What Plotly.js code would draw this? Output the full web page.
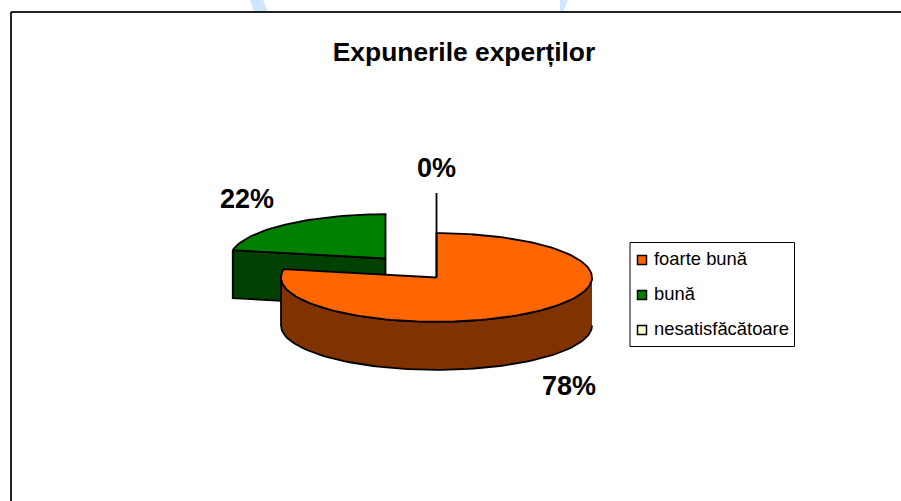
<!DOCTYPE html>
<html>
<head>
<meta charset="utf-8">
<script src="https://cdn.plot.ly/plotly-3.0.1.min.js"></script>
<style>html,body{margin:0;padding:0;background:#fff;overflow:hidden}#chart{width:901px;height:501px}</style>
</head>
<body>
<div id="chart"></div>
<script>
const chartTitle = "Expunerile experților";
const categories = ["foarte bună", "bună", "nesatisfăcătoare"];
const values = [78, 22, 0];
const sliceColors = ["#ff6600", "#008000", "#ffffcc"];
const wallColors = ["#803300", "#004000", "#808066"];

const W = 901, H = 501, CX = 436.5, CY = 277.5, R = 155.5, TILT = 0.285, DEPTH = 48 / R;
const X = px => (px - CX) / R;
const Y = py => (CY - py) / R;
const total = values.reduce((a, b) => a + b, 0);
const offsets = [[0, 0], [-51 / R, 19 / R], [0, 40 / R]];
const rim = (deg, o, drop) => {
  const t = deg * Math.PI / 180;
  return [o[0] + Math.sin(t), o[1] + TILT * Math.cos(t) - (drop || 0)];
};
const arc = (a, b, o, drop) => {
  const n = Math.max(2, Math.ceil(Math.abs(b - a) / 2)), pts = [];
  for (let i = 0; i <= n; i++) pts.push(rim(a + (b - a) * i / n, o, drop));
  return pts;
};
const poly = (pts, color, width) => ({
  type: "scatter", mode: "lines", fill: "toself", fillcolor: color,
  x: pts.map(p => p[0]), y: pts.map(p => p[1]),
  line: {color: "#000", width: width === undefined ? 1.8 : width},
  hoverinfo: "skip", showlegend: false
});

const traces = [];
let start = 0;
const spans = values.map(v => { const s = [start, start + v / total * 360]; start = s[1]; return s; });

// back to front: bună, then foarte bună, then the empty slice
[1, 0].forEach(i => {
  const [a, b] = spans[i], o = offsets[i];
  const wa = Math.max(a, 90), wb = Math.min(b, 270);
  if (wb > wa) {
    traces.push(poly([...arc(wa, wb, o), ...arc(wb, wa, o, DEPTH)], wallColors[i]));
  }
  if (b > 270 && a > 180) {
    // cut face turned towards the viewer
    const p = rim(a, o), c = [o[0], o[1]];
    traces.push(poly([p, c, [c[0], c[1] - DEPTH], [p[0], p[1] - DEPTH], p], wallColors[i]));
  }
  traces.push(poly([[o[0], o[1]], ...arc(a, b, o), [o[0], o[1]]], sliceColors[i]));
});
// zero-value slice collapses to a single line
const z = spans[2], zo = offsets[2];
const zp = rim(z[0], zo);
traces.push({type: "scatter", mode: "lines", x: [0, zp[0]], y: [0, Y(193)],
  line: {color: "#000", width: 1.8}, hoverinfo: "skip", showlegend: false});

// legend swatches and labels
const legendY = [260, 295, 330];
traces.push({type: "scatter", mode: "markers",
  x: categories.map(() => X(642)), y: legendY.map(Y),
  marker: {symbol: "square", size: 9, color: sliceColors, line: {color: "#000", width: 1.5}},
  hoverinfo: "skip", showlegend: false});

const labelPos = [[569, 386], [247, 199], [436, 168]];
const annotations = values.map((v, i) => ({
  xref: "paper", yref: "paper", x: labelPos[i][0] / W, y: 1 - labelPos[i][1] / H,
  xanchor: "center", yanchor: "middle", showarrow: false,
  text: "<b>" + v + "%</b>", font: {family: "Liberation Sans, Arial, sans-serif", size: 27, color: "#000"}
}));
categories.forEach((c, i) => annotations.push({
  xref: "paper", yref: "paper", x: 651.5 / W, y: 1 - (legendY[i] - 1.5) / H,
  xanchor: "left", yanchor: "middle", showarrow: false,
  text: c, font: {family: "Liberation Sans, Arial, sans-serif", size: 18.4, color: "#000"}
}));

const pxRect = (x0, y0, x1, y1, extra) => Object.assign({
  type: "rect", xref: "paper", yref: "paper",
  x0: x0 / W, x1: x1 / W, y0: 1 - y0 / H, y1: 1 - y1 / H
}, extra);
const pxLine = (x0, y0, x1, y1) => ({
  type: "line", xref: "paper", yref: "paper",
  x0: x0 / W, x1: x1 / W, y0: 1 - y0 / H, y1: 1 - y1 / H,
  line: {color: "#222", width: 2}
});
const pxPath = (pts, color) => ({
  type: "path", xref: "paper", yref: "paper", layer: "below",
  path: pts.map((p, i) => (i ? "L" : "M") + (p[0] / W) + "," + (1 - p[1] / H)).join(" ") + " Z",
  fillcolor: color, line: {width: 0}
});

const shapes = [
  pxPath([[250, 0], [263, 0], [268, 12], [254, 12]], "#cfe6ff"),
  pxPath([[560, 0], [568, 0], [563, 12], [560, 12]], "#cfe6ff"),
  pxLine(11, 12, 901, 12),
  pxLine(11, 12, 11, 501),
  pxRect(630, 242.5, 794.5, 346.5, {line: {color: "#000", width: 1}, fillcolor: "#fff", layer: "below"})
];

Plotly.newPlot("chart", traces, {
  width: W, height: H,
  margin: {l: 0, r: 0, t: 0, b: 0},
  paper_bgcolor: "#fff", plot_bgcolor: "rgba(0,0,0,0)",
  showlegend: false,
  title: {
    text: "<b>" + chartTitle + "</b>", x: 464 / W, y: 1 - 52 / H,
    xanchor: "center", yanchor: "middle",
    font: {family: "Liberation Sans, Arial, sans-serif", size: 26.4, color: "#000"}
  },
  xaxis: {range: [X(0), X(W)], visible: false, fixedrange: true},
  yaxis: {range: [Y(H), Y(0)], visible: false, fixedrange: true},
  annotations, shapes
}, {displayModeBar: false, staticPlot: true});
</script>
</body>
</html>
